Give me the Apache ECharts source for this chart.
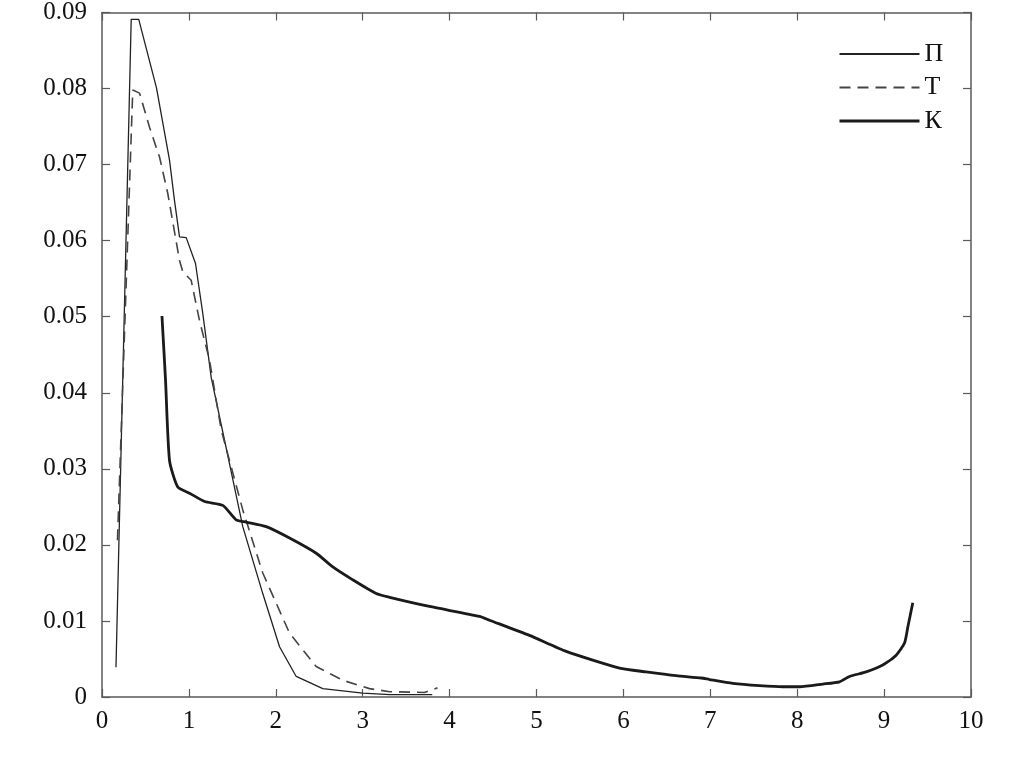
<!DOCTYPE html>
<html><head><meta charset="utf-8">
<script src="https://cdn.jsdelivr.net/npm/echarts@6/dist/echarts.min.js"></script>
<style>html,body{margin:0;padding:0;background:#fff}#c{width:1010px;height:768px}</style>
</head><body><div id="c"></div>
<script>
const seriesNames = ['П', 'Т', 'К'];
const xTicks = [0,1,2,3,4,5,6,7,8,9,10];
const yTicks = [0,0.01,0.02,0.03,0.04,0.05,0.06,0.07,0.08,0.09];

const piX = [0.161,0.336,0.423,0.466,0.627,0.777,0.834,0.892,0.969,1.076,1.160,1.257,1.467,1.620,1.850,2.043,2.235,2.541,3.0,3.31,3.6,3.8];
const piY = [0.0039,0.0891,0.0891,0.0872,0.0801,0.0706,0.0653,0.0605,0.0604,0.0570,0.0504,0.0420,0.0307,0.0224,0.0136,0.0066,0.0027,0.0011,0.0005,0.0003,0.0003,0.0003];

const tX = [0.178,0.354,0.432,0.547,0.662,0.757,0.892,0.930,1.026,1.122,1.237,1.372,1.467,1.620,1.850,2.158,2.465,2.771,3.078,3.31,3.71,3.86];
const tY = [0.0206,0.0798,0.0794,0.0749,0.0710,0.0662,0.0574,0.0559,0.0548,0.0495,0.0443,0.0351,0.0311,0.0246,0.0163,0.0084,0.0040,0.0022,0.0011,0.0007,0.0006,0.0012];

const kX = [0.690,0.731,0.777,0.872,1.007,1.180,1.390,1.544,1.659,1.890,2.158,2.465,2.656,2.886,3.155,3.31,3.769,4.344,4.459,4.919,5.342,5.955,6.262,6.607,6.895,6.991,7.259,7.566,7.834,8.026,8.295,8.487,8.602,8.794,8.985,9.139,9.235,9.273,9.330];
const kY = [0.0501,0.0417,0.0311,0.0276,0.0268,0.0257,0.0252,0.0233,0.0230,0.0224,0.0209,0.0189,0.0171,0.0154,0.0136,0.0131,0.0119,0.0106,0.0101,0.0081,0.0060,0.0038,0.0033,0.0028,0.0025,0.0023,0.0018,0.0015,0.00135,0.00135,0.0017,0.0020,0.0027,0.0033,0.0042,0.0055,0.0071,0.0092,0.0124];

const zip = (a,b) => a.map((v,i)=>[v,b[i]]);
const font = '"Liberation Serif", "Times New Roman", serif';
const axisColor = '#5a5a5a';

const chart = echarts.init(document.getElementById('c'));
const baseAxis = () => ({
  axisLine:{show:true,onZero:false,lineStyle:{color:axisColor,width:1.5}},
  axisTick:{show:true,inside:true,length:8,lineStyle:{color:axisColor,width:1.2}},
  splitLine:{show:false}
});
chart.setOption({
  animation:false,
  backgroundColor:'#fff',
  grid:{left:102,right:39,top:12,bottom:71},
  legend:{
    orient:'vertical', left:838, top:41, align:'left', padding:0,
    itemWidth:80, itemHeight:14, itemGap:7.5,
    itemStyle:{opacity:0},
    textStyle:{fontFamily:font,fontSize:26,lineHeight:24,color:'#111'},
    data:[
      {name:seriesNames[0]},
      {name:seriesNames[1]},
      {name:seriesNames[2],lineStyle:{width:3}}
    ]
  },
  xAxis:[
    Object.assign({type:'value',min:0,max:10,interval:1,position:'bottom',
      axisLabel:{fontFamily:font,fontSize:25,color:'#111',margin:12}},baseAxis()),
    Object.assign({type:'value',min:0,max:10,interval:1,position:'top',
      axisLabel:{show:false}},baseAxis())
  ],
  yAxis:[
    Object.assign({type:'value',min:0,max:0.09,interval:0.01,position:'left',
      axisLabel:{fontFamily:font,fontSize:25,color:'#111',margin:15,
        formatter:v=>Math.abs(v)<1e-9?'0':v.toFixed(2)}},baseAxis()),
    Object.assign({type:'value',min:0,max:0.09,interval:0.01,position:'right',
      axisLabel:{show:false}},baseAxis())
  ],
  series:[
    {name:seriesNames[0],type:'line',showSymbol:false,symbol:'none',data:zip(piX,piY),
      lineStyle:{color:'#222',width:1.3},itemStyle:{color:'#222'}},
    {name:seriesNames[1],type:'line',showSymbol:false,symbol:'none',data:zip(tX,tY),
      lineStyle:{color:'#444',width:1.6,type:[11,7]},itemStyle:{color:'#444'}},
    {name:seriesNames[2],type:'line',showSymbol:false,symbol:'none',data:zip(kX,kY),smooth:0.2,
      lineStyle:{color:'#1a1a1a',width:2.8},itemStyle:{color:'#1a1a1a'}}
  ]
});
</script></body></html>
